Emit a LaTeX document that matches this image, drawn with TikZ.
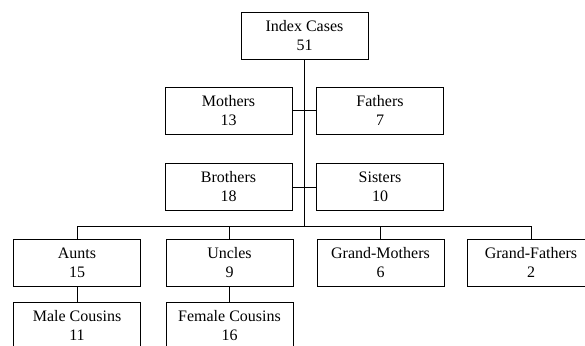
\documentclass[tikz,border=0pt]{standalone}
\usepackage{fontspec}
\setmainfont{Liberation Serif}
\usepackage{tikz}

\begin{document}
\begin{tikzpicture}[x=1pt,y=-1pt,
  famcase/.style={draw,line width=0.9pt,minimum width=127pt,minimum height=47pt,
    inner sep=0pt,align=center,font=\fontsize{16}{19}\selectfont}]
  \useasboundingbox (0,0) rectangle (585,345);
  \clip (0,0) rectangle (585,345);

  \node[famcase] (index) at (304.5,36) {Index Cases\\51};

  \node[famcase] (mothers) at (228.5,110.5) {Mothers\\13};
  \node[famcase] (fathers) at (380,110.5) {Fathers\\7};

  \node[famcase] (brothers) at (228.5,187) {Brothers\\18};
  \node[famcase] (sisters) at (380,187) {Sisters\\10};

  \node[famcase] (aunts) at (77,262.5) {Aunts\\15};
  \node[famcase] (uncles) at (229.5,262.5) {Uncles\\9};
  \node[famcase] (gmothers) at (380.5,262.5) {Grand-Mothers\\6};
  \node[famcase] (gfathers) at (531,262.5) {Grand-Fathers\\2};

  \node[famcase] (malecous) at (77,325.5) {Male Cousins\\11};
  \node[famcase] (femalecous) at (229.5,325.5) {Female Cousins\\16};

  \coordinate (bar) at (304.5,226);

  \draw (index) -- (bar);
  \draw (mothers) -- (fathers);
  \draw (brothers) -- (sisters);
  \draw (aunts.north) -- (aunts.north |- bar) -- (gfathers.north |- bar) -- (gfathers.north);
  \draw (uncles.north) -- (uncles.north |- bar);
  \draw (gmothers.north) -- (gmothers.north |- bar);
  \draw (aunts) -- (malecous);
  \draw (uncles) -- (femalecous);
\end{tikzpicture}
\end{document}
